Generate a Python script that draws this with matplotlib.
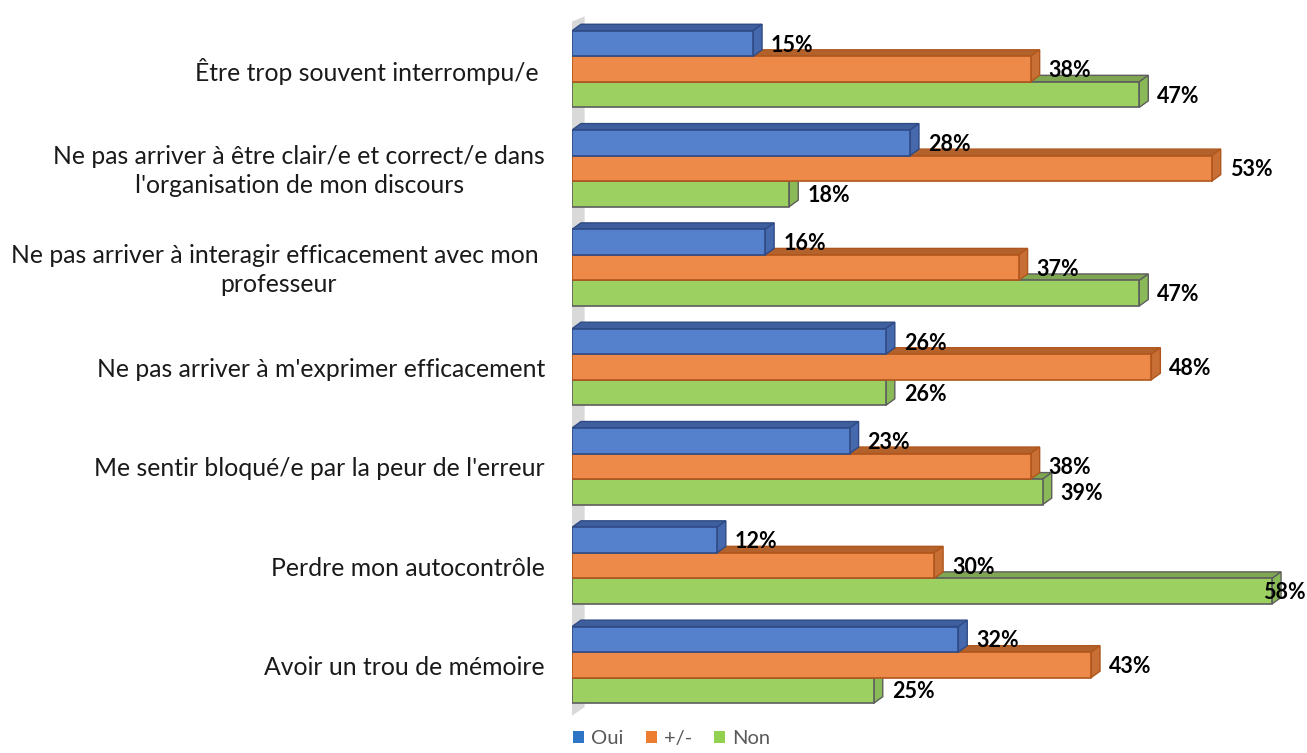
import matplotlib.pyplot as plt
from matplotlib.patches import Polygon, Patch

categories = [
    "Être trop souvent interrompu/e ",
    "Ne pas arriver à être clair/e et correct/e dans\nl'organisation de mon discours",
    "Ne pas arriver à interagir efficacement avec mon \nprofesseur",
    "Ne pas arriver à m'exprimer efficacement",
    "Me sentir bloqué/e par la peur de l'erreur",
    "Perdre mon autocontrôle",
    "Avoir un trou de mémoire",
]
series_names = ["Oui", "+/-", "Non"]
oui = [15, 28, 16, 26, 23, 12, 32]
plus_minus = [38, 53, 37, 48, 38, 30, 43]
non = [47, 18, 47, 26, 39, 58, 25]

# front, edge, top, side colours per series
styles = {
    "Oui": ("#5580CC", "#2F4B85", "#3E5E9E", "#4668AD"),
    "+/-": ("#ED8A4A", "#B0561C", "#B3622C", "#C86F35"),
    "Non": ("#9CD162", "#5E5E5E", "#7FA651", "#8AB957"),
}
legend_colors = {"Oui": "#2E75C6", "+/-": "#ED7D31", "Non": "#92D050"}

plt.rcParams['font.family'] = ['Lato', 'DejaVu Sans']

W, H = 1307, 753
fig = plt.figure(figsize=(W / 100, H / 100), dpi=100)

ax_left, ax_right, ax_top, ax_bot = 572, 1305, 15, 720
ax = fig.add_axes([ax_left / W, 1 - ax_bot / H, (ax_right - ax_left) / W, (ax_bot - ax_top) / H])

px_x = 12.07   # pixels per percent
px_y = 25.5    # pixels per bar unit
pitch = 3.89
x_max = (ax_right - ax_left) / px_x
y_top = -(69 - ax_top) / px_y
y_bot = 6 * pitch + (ax_bot - 665) / px_y
ax.set_xlim(0, x_max)
ax.set_ylim(y_bot, y_top)
ax.axis('off')

dx = 9 / px_x
dy = -6.5 / px_y

# side wall
wall = Polygon([(-0.2, y_bot - 0.1), (dx + 0.3, y_bot - 0.1 + dy * 1.6),
                (dx + 0.3, y_top + 0.05), (-0.2, y_top + 0.3)],
               closed=True, facecolor="#D9D9D9", edgecolor="none", zorder=0)
ax.add_patch(wall)

data = {"Oui": oui, "+/-": plus_minus, "Non": non}
offsets = {"Oui": -1, "+/-": 0, "Non": 1}

for i, cat in enumerate(categories):
    yc = i * pitch
    for k, name in enumerate(["Non", "+/-", "Oui"]):
        v = data[name][i]
        y = yc + offsets[name]
        front, edge, top, side = styles[name]
        z = 2 + i * 10 + k * 3
        y0, y1 = y - 0.5, y + 0.5
        ax.add_patch(Polygon([(0, y0), (v, y0), (v + dx, y0 + dy), (dx, y0 + dy)],
                             closed=True, facecolor=top, edgecolor=edge, lw=1.0, zorder=z))
        ax.add_patch(Polygon([(v, y0), (v + dx, y0 + dy), (v + dx, y1 + dy), (v, y1)],
                             closed=True, facecolor=side, edgecolor=edge, lw=1.0, zorder=z))
        ax.barh(y, v, height=1, left=0, color=front, edgecolor=edge, linewidth=1.2, zorder=z + 1)
        lx = v + dx + 9 / px_x
        if lx + 42 / px_x > x_max:
            lx = x_max - 42 / px_x
        ax.text(lx, y + 0.06, f"{v}%", fontsize=15.5, fontweight='bold',
                color="black", ha='left', va='center', zorder=100)
    ax.text(-27 / px_x, yc + 0.1, cat, fontsize=17.8, ha='right', va='center',
            multialignment='center', color="#1a1a1a", clip_on=False, linespacing=1.32)

handles = [Patch(facecolor=legend_colors[n], edgecolor='none') for n in series_names]
fig.legend(handles, series_names, loc='lower center', bbox_to_anchor=(0.514, -0.016),
           ncol=3, frameon=False, handlelength=0.55, handleheight=0.55, handletextpad=0.35,
           columnspacing=1.1, fontsize=14.5, labelcolor="#595959")

fig.savefig("out.png", dpi=100)
